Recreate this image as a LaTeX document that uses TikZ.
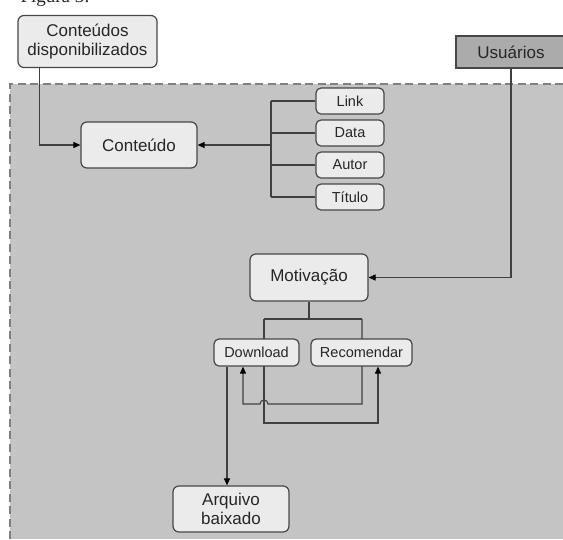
\documentclass[tikz,border=0pt]{standalone}
\usepackage{fontspec}
\setmainfont{Liberation Sans}
\newfontfamily\serifa{Liberation Serif}
\usetikzlibrary{arrows.meta}
\pgfdeclarelayer{fundo}
\pgfdeclarelayer{linhas}
\pgfsetlayers{fundo,linhas,main}

\begin{document}
\begin{tikzpicture}[x=1pt,y=-1pt,
	caixa/.style={draw=black!72,line width=1.2pt,fill=black!8,rounded corners=6pt,
		inner sep=0pt,align=center,text=black!85,font=\fontsize{17}{19.5}\selectfont},
	caixinha/.style={caixa,rounded corners=5pt,font=\fontsize{14.5}{16}\selectfont},
	conector/.style={draw=black!75,line width=1.1pt},
	seta/.style={conector,-{Triangle[length=7pt,width=6pt,color=black]}}]
	\useasboundingbox (0,0) rectangle (563,539);
	\node[anchor=base west,font=\serifa\fontsize{19}{21}\selectfont,text=black!85] (fig) at (17,2.5) {Figura 3:};

	% caixas
	\node[caixa,minimum width=139pt,minimum height=52pt] (cd) at (87.5,41.5) {Conteúdos\\disponibilizados};
	\node[caixa,minimum width=116pt,minimum height=46pt] (cont) at (139,145) {Conteúdo};
	\node[caixinha,minimum width=68pt,minimum height=26pt] (link) at (350,101) {Link};
	\node[caixinha,minimum width=68pt,minimum height=26pt] (data) at (350,133) {Data};
	\node[caixinha,minimum width=68pt,minimum height=26pt] (autor) at (350,165) {Autor};
	\node[caixinha,minimum width=68pt,minimum height=26pt] (titulo) at (350,197) {Título};
	\node[caixa,rounded corners=0pt,fill=black!33,minimum width=110pt,minimum height=32pt] (us) at (511,52) {Usuários};
	\node[caixa,minimum width=118pt,minimum height=47pt] (mot) at (309,277.5) {Motivação};
	\node[caixinha,minimum width=85pt,minimum height=27pt] (dl) at (256.5,352.5) {Download};
	\node[caixinha,minimum width=101pt,minimum height=27pt] (rec) at (361.5,352.5) {Recomendar};
	\node[caixa,minimum width=116pt,minimum height=46pt] (arq) at (231,509) {Arquivo\\baixado};

	% area tracejada
	\begin{pgfonlayer}{fundo}
		\fill[black!23] (10,84) rectangle (563,539);
		\draw[black!50,line width=1.6pt,dash pattern=on 8pt off 4.5pt] (10,539) -- (10,84) -- (563,84);
	\end{pgfonlayer}

	\begin{pgfonlayer}{linhas}
		\draw[seta] ([xshift=22.5pt]cd.south west) |- (cont.west);
		\coordinate (tronco) at (271,145);
		\draw[seta] (tronco) -- (cont.east);
		\draw[conector] (tronco |- link.west) -- (tronco |- titulo.west);
		\foreach \n in {link,data,autor,titulo}
			\draw[conector] (tronco |- \n.west) -- (\n.west);
		\draw[seta] (us.south) |- (mot.east);
		\coordinate (hl) at (264,319);
		\coordinate (hr) at (362,319);
		\coordinate (la) at (264,423);
		\coordinate (lb) at (362,404);
		\draw[conector] (mot.south) -- (mot.south |- hl);
		\draw[conector] (hl) -- (hr);
		\draw[seta] (hl) -- (la) -| ([xshift=16.5pt]rec.south);
		\draw[seta] (hr) -- (lb) -- ++(-94,0) arc[start angle=0,end angle=180,radius=4pt]
			-- ([xshift=-13.5pt]dl.south |- lb) -- ([xshift=-13.5pt]dl.south);
		\draw[seta] ([xshift=-29.5pt]dl.south) -- ([xshift=-29.5pt]dl.south |- arq.north);
	\end{pgfonlayer}
\end{tikzpicture}
\end{document}
